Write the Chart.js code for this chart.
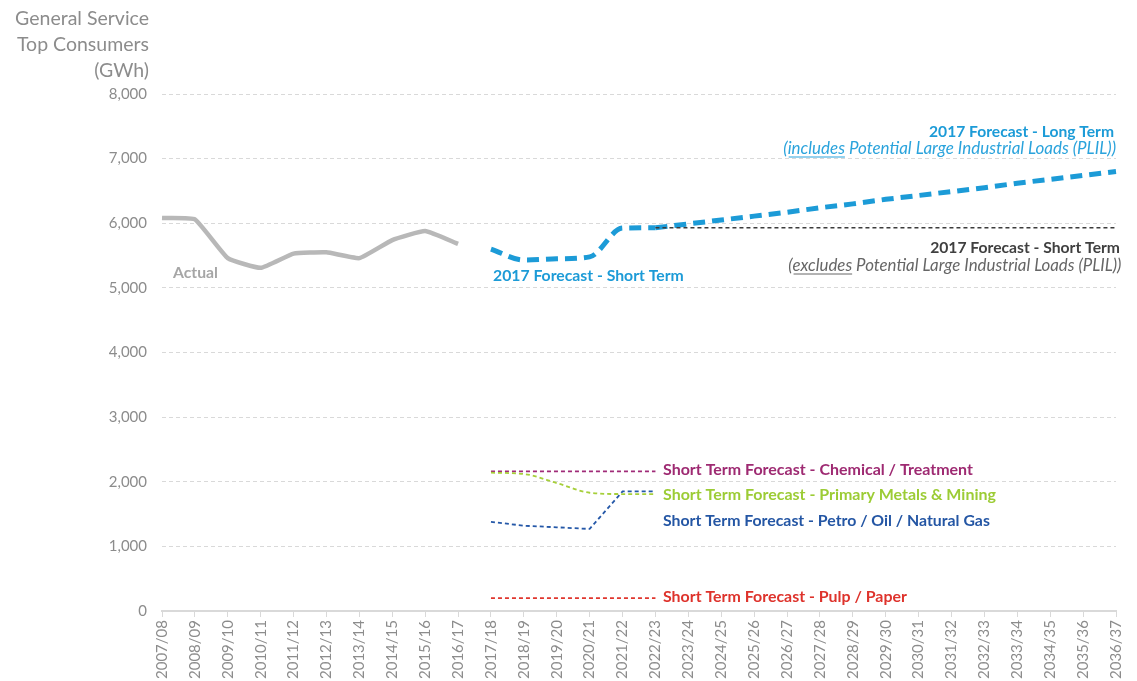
<!DOCTYPE html>
<html>
<head>
<meta charset="utf-8">
<script src="https://cdn.jsdelivr.net/npm/chart.js@4.4.0/dist/chart.umd.min.js"></script>
<style>
  body { margin: 0; background: #fff; }
  canvas { display: block; }
</style>
</head>
<body>
<canvas id="chart" width="1137" height="681"></canvas>
<script>
// Fiscal years on the x axis
const years = [
    '2007/08', '2008/09', '2009/10', '2010/11', '2011/12', '2012/13', '2013/14', '2014/15',
    '2015/16', '2016/17', '2017/18', '2018/19', '2019/20', '2020/21', '2021/22', '2022/23',
    '2023/24', '2024/25', '2025/26', '2026/27', '2027/28', '2028/29', '2029/30', '2030/31',
    '2031/32', '2032/33', '2033/34', '2034/35', '2035/36', '2036/37'
];
const yTicks = [0, 1000, 2000, 3000, 4000, 5000, 6000, 7000, 8000];

// GWh
const actual = [6080, 6060, 5460, 5310, 5530, 5550, 5460, 5740, 5880, 5680];          // 2007/08 - 2016/17
const forecastShortTerm = [5600, 5430, 5450, 5480, 5925, 5930];                        // 2017/18 - 2022/23
const forecastLongTerm = [5930, 5990, 6050, 6110, 6170, 6240, 6300, 6370, 6430,
                          6490, 6550, 6620, 6680, 6740, 6800];                         // 2022/23 - 2036/37
const shortTermExclPlil = [5930, 5930, 5930, 5930, 5930, 5930, 5930, 5930, 5930,
                           5930, 5930, 5930, 5930, 5930, 5930];                        // 2022/23 - 2036/37
const chemical = [2160, 2160, 2160, 2160, 2160, 2160];                                 // 2017/18 - 2022/23
const metalsMining = [2140, 2120, 1980, 1830, 1810, 1810];
const petroOilGas = [1380, 1320, 1295, 1270, 1850, 1850];
const pulpPaper = [200, 200, 200, 200, 200, 200];

// put a short series on the full year axis
function span(start, values) {
    return years.map((_, i) => (i >= start && i < start + values.length) ? values[i - start] : null);
}

const GREY = '#8c8c8c';
const FONT = 'Lato, "Open Sans", sans-serif';

// text written on the chart
const notes = [
    { parts: [['Actual']], x: 173, y: 273, align: 'left', color: '#a6a6a6', weight: 'bold', w: 45 },
    { parts: [['2017 Forecast - Short Term']], x: 493, y: 276, align: 'left', color: '#1c9bd7', weight: 'bold', w: 191 },
    { parts: [['2017 Forecast - Long Term']], x: 1114, y: 132, align: 'right', color: '#1c9bd7', weight: 'bold', w: 185 },
    { parts: [['('], ['includes', true], [' Potential Large Industrial Loads (PLIL))']], x: 1116, y: 149,
      align: 'right', color: '#2aa3dc', weight: 'normal', style: 'italic', w: 333 },
    { parts: [['2017 Forecast - Short Term']], x: 1120, y: 248, align: 'right', color: '#404040', weight: 'bold', w: 190 },
    { parts: [['('], ['excludes', true], [' Potential Large Industrial Loads (PLIL))']], x: 1121, y: 266,
      align: 'right', color: '#666666', weight: 'normal', style: 'italic', w: 333 },
    { parts: [['Short Term Forecast - Chemical / Treatment']], x: 663, y: 470, align: 'left', color: '#9e2a72', weight: 'bold', w: 310 },
    { parts: [['Short Term Forecast - Primary Metals & Mining']], x: 663, y: 495, align: 'left', color: '#9ccc35', weight: 'bold', w: 333 },
    { parts: [['Short Term Forecast - Petro / Oil / Natural Gas']], x: 663, y: 521, align: 'left', color: '#2456a4', weight: 'bold', w: 327 },
    { parts: [['Short Term Forecast - Pulp / Paper']], x: 663, y: 597, align: 'left', color: '#de332c', weight: 'bold', w: 244 }
];

function fitFont(ctx, text, style, weight, target) {
    const base = 15;
    ctx.font = `${style} ${weight} ${base}px ${FONT}`;
    const size = base * target / ctx.measureText(text).width;
    return `${style} ${weight} ${size.toFixed(2)}px ${FONT}`;
}

const textPlugin = {
    id: 'notes',
    afterDraw(chart) {
        const ctx = chart.ctx;
        ctx.save();
        ctx.textBaseline = 'middle';
        ctx.textAlign = 'left';

        // axis title
        ctx.fillStyle = GREY;
        ctx.font = fitFont(ctx, 'General Service', 'normal', 'normal', 134);
        [['General Service', 19], ['Top Consumers', 45], ['(GWh)', 71]].forEach(([t, y]) => {
            ctx.fillText(t, 149 - ctx.measureText(t).width, y);
        });

        notes.forEach(n => {
            const whole = n.parts.map(p => p[0]).join('');
            ctx.font = fitFont(ctx, whole, n.style || 'normal', n.weight, n.w);
            ctx.fillStyle = n.color;
            ctx.strokeStyle = n.color;
            ctx.lineWidth = 1;
            const total = ctx.measureText(whole).width;
            let x = n.align === 'right' ? n.x - total : n.x;
            n.parts.forEach(([t, underline]) => {
                const w = ctx.measureText(t).width;
                ctx.fillText(t, x, n.y);
                if (underline) {
                    ctx.beginPath();
                    ctx.moveTo(x + 1, n.y + 8);
                    ctx.lineTo(x + w, n.y + 8);
                    ctx.stroke();
                }
                x += w;
            });
        });
        ctx.restore();
    }
};

new Chart(document.getElementById('chart').getContext('2d'), {
    type: 'line',
    data: {
        labels: years,
        datasets: [
            {
                label: '2017 Forecast - Short Term (excludes PLIL)',
                data: span(15, shortTermExclPlil),
                borderColor: '#3c3c3c',
                borderWidth: 1.6,
                borderDash: [4, 3],
                order: 0
            },
            {
                label: 'Actual',
                data: span(0, actual),
                borderColor: '#b8b8b8',
                borderWidth: 4.5,
                tension: 0.12,
                order: 1
            },
            {
                label: '2017 Forecast - Short Term',
                data: span(10, forecastShortTerm),
                borderColor: '#1c9bd7',
                borderWidth: 5,
                borderDash: [12, 7],
                cubicInterpolationMode: 'monotone',
                order: 1
            },
            {
                label: '2017 Forecast - Long Term',
                data: span(15, forecastLongTerm),
                borderColor: '#1c9bd7',
                borderWidth: 5,
                borderDash: [12, 7],
                order: 1
            },
            {
                label: 'Chemical / Treatment',
                data: span(10, chemical),
                borderColor: '#a02b78',
                borderWidth: 1.8,
                borderDash: [4, 3],
                order: 2
            },
            {
                label: 'Primary Metals & Mining',
                data: span(10, metalsMining),
                borderColor: '#a6cf3a',
                borderWidth: 1.8,
                borderDash: [4, 3],
                cubicInterpolationMode: 'monotone',
                order: 1
            },
            {
                label: 'Petro / Oil / Natural Gas',
                data: span(10, petroOilGas),
                borderColor: '#2558a8',
                borderWidth: 1.8,
                borderDash: [4, 3],
                tension: 0,
                order: 1
            },
            {
                label: 'Pulp / Paper',
                data: span(10, pulpPaper),
                borderColor: '#e0362e',
                borderWidth: 1.8,
                borderDash: [4, 3],
                order: 1
            }
        ]
    },
    options: {
        responsive: false,
        animation: false,
        spanGaps: false,
        elements: {
            point: { radius: 0, hoverRadius: 0 },
            line: { fill: false, borderCapStyle: 'butt' }
        },
        layout: {
            padding: { top: 94, right: 18, left: 0, bottom: 0 }
        },
        plugins: {
            legend: { display: false },
            tooltip: { enabled: false }
        },
        scales: {
            x: {
                offset: false,
                grid: { drawOnChartArea: false, drawTicks: true, tickLength: 6, color: '#d9d9d9' },
                border: { color: '#d9d9d9', width: 2 },
                ticks: {
                    autoSkip: false,
                    minRotation: 90,
                    maxRotation: 90,
                    padding: 3,
                    color: GREY,
                    font: { family: FONT, size: 15 }
                },
                afterFit(scale) { scale.height = 70; }
            },
            y: {
                min: yTicks[0],
                max: yTicks[yTicks.length - 1],
                afterBuildTicks(scale) { scale.ticks = yTicks.map(v => ({ value: v })); },
                grid: { color: '#d9d9d9', drawTicks: false, lineWidth: 1 },
                border: { display: false, dash: [4, 3] },
                ticks: {
                    padding: 15,
                    color: GREY,
                    font: { family: FONT, size: 15 },
                    callback: v => v.toLocaleString('en-US')
                },
                afterFit(scale) { scale.width = 162; }
            }
        }
    },
    plugins: [textPlugin]
});
</script>
</body>
</html>
